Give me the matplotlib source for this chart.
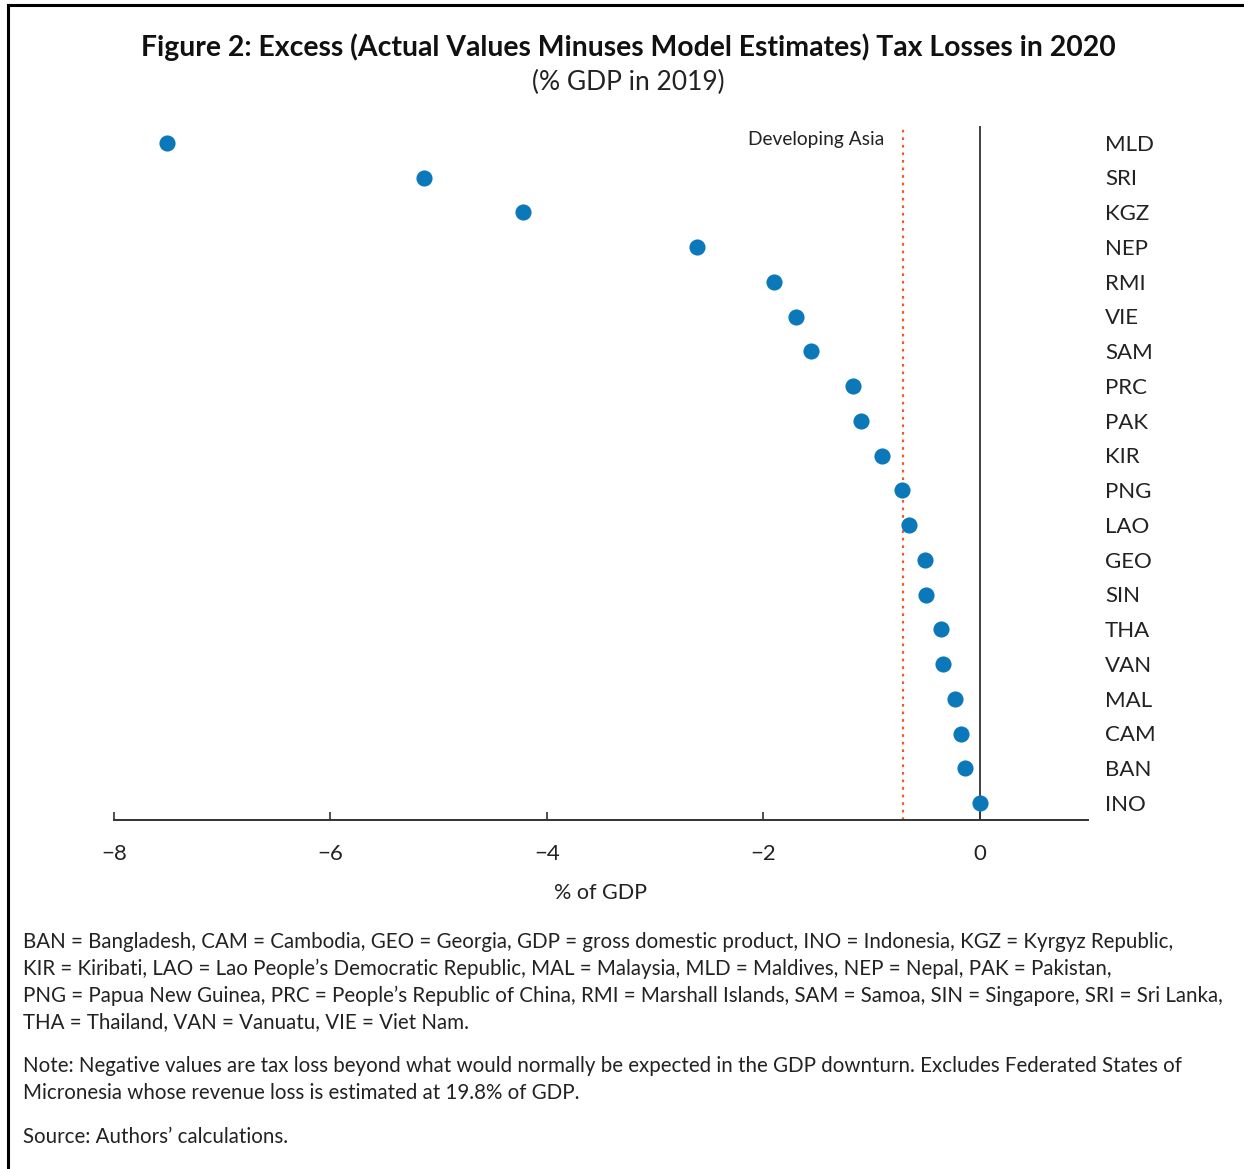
import matplotlib
matplotlib.use("Agg")
import matplotlib.pyplot as plt
from matplotlib.lines import Line2D

plt.rcParams['font.family'] = ['Lato', 'DejaVu Sans']

countries = ["INO", "BAN", "CAM", "MAL", "VAN", "THA", "SIN", "GEO", "LAO", "PNG",
             "KIR", "PAK", "PRC", "SAM", "VIE", "RMI", "NEP", "KGZ", "SRI", "MLD"]
values = [0.00, -0.14, -0.17, -0.23, -0.34, -0.36, -0.50, -0.51, -0.65, -0.72,
          -0.90, -1.10, -1.17, -1.56, -1.70, -1.90, -2.61, -4.22, -5.14, -7.51]
developing_asia = -0.71
xticks = [-8, -6, -4, -2, 0]

title = "Figure 2: Excess (Actual Values Minuses Model Estimates) Tax Losses in 2020"
subtitle = "(% GDP in 2019)"
footnotes = [
    "BAN = Bangladesh, CAM = Cambodia, GEO = Georgia, GDP = gross domestic product, INO = Indonesia, KGZ = Kyrgyz Republic,",
    "KIR = Kiribati, LAO = Lao People\u2019s Democratic Republic, MAL = Malaysia, MLD = Maldives, NEP = Nepal, PAK = Pakistan,",
    "PNG = Papua New Guinea, PRC = People\u2019s Republic of China, RMI = Marshall Islands, SAM = Samoa, SIN = Singapore, SRI = Sri Lanka,",
    "THA = Thailand, VAN = Vanuatu, VIE = Viet Nam.",
]
note = [
    "Note: Negative values are tax loss beyond what would normally be expected in the GDP downturn. Excludes Federated States of",
    "Micronesia whose revenue loss is estimated at 19.8% of GDP.",
]
source = "Source: Authors\u2019 calculations."

W, H = 1244, 1169
fig = plt.figure(figsize=(W / 100, H / 100), dpi=100)

def fx(px):
    return px / W

def fy(py):
    return 1 - py / H

ax = fig.add_axes([fx(114), fy(820), fx(1088) - fx(114), fy(126) - fy(820)])
ypos = list(range(len(countries)))
ax.axvline(0, color="#333333", lw=1.3, zorder=1)
ax.axvline(developing_asia, color="#F05A28", lw=1.6, ls=(0, (1.2, 2.2)), zorder=1)
ax.scatter(values, ypos, s=135, color="#0A78B9", zorder=3, linewidths=0)
ax.set_xlim(-8, 1)
ax.set_ylim(-0.49, len(countries) - 0.51)
for s in ["top", "left", "right"]:
    ax.spines[s].set_visible(False)
ax.spines["bottom"].set_color("#333333")
ax.spines["bottom"].set_linewidth(1.4)
ax.set_xticks(xticks)
ax.set_xticklabels(["\u2212" + str(abs(t)) if t < 0 else str(t) for t in xticks])
ax.tick_params(axis="x", direction="in", length=6, width=1.2, color="#333333",
               labelsize=16, labelcolor="#222222", pad=17)
ax.set_yticks([])
ax.set_xlabel("% of GDP", fontsize=15.5, color="#222222", labelpad=14)

for c, y in zip(countries, ypos):
    ax.text(1.0 + (1105 - 1088) / 108.25, y - 0.05, c, fontsize=16, color="#222222",
            va="center", ha="left", clip_on=False)

ax.text(developing_asia - 0.17, len(countries) - 1 + 0.1, "Developing Asia", fontsize=13.8,
        color="#222222", ha="right", va="center")

fig.text(fx(628), fy(47), title, fontsize=20.4, fontweight="bold", ha="center",
         va="center", color="#111111")
fig.text(fx(628), fy(82), subtitle, fontsize=19, ha="center", va="center", color="#222222")

for i, line in enumerate(footnotes):
    fig.text(fx(23), fy(942 + i * 26.7), line, fontsize=14.8, ha="left", va="center",
             color="#222222")
for i, line in enumerate(note):
    fig.text(fx(23), fy(1066 + i * 27), line, fontsize=14.8, ha="left", va="center",
             color="#222222")
fig.text(fx(23), fy(1137), source, fontsize=14.8, ha="left", va="center", color="#222222")

fig.add_artist(Line2D([fx(8), 1], [fy(5), fy(5)], color="black", lw=2.2,
                      transform=fig.transFigure))
fig.add_artist(Line2D([fx(8), fx(8)], [fy(5), 0], color="black", lw=2.2,
                      transform=fig.transFigure))

fig.savefig("out.png", dpi=100)
